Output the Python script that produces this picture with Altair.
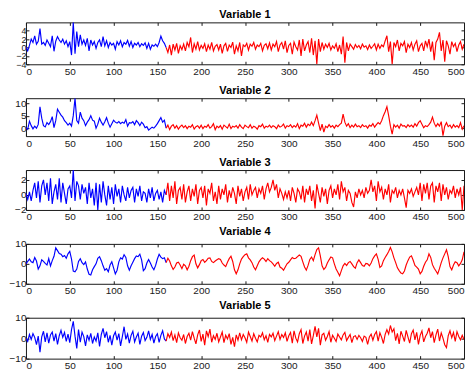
import altair as alt
import numpy as np
import pandas as pd

SPLIT = 160
TITLES = ["Variable 1", "Variable 2", "Variable 3", "Variable 4", "Variable 5"]
X_TICKS = [0, 50, 100, 150, 200, 250, 300, 350, 400, 450, 500]
Y_TICKS = [[-4, -2, 0, 2, 4], [0, 5, 10], [-2, 0, 2], [-10, 0, 10], [-10, 0, 10]]
Y_DOMAINS = [[-4, 6], [-3.2, 12], [-2, 3.3], [-10, 10], [-10, 10]]
Y_LABEL_SIZES = [9, 10, 10, 10, 10]
HEIGHTS = [42, 38, 40, 40, 41]

# values sampled every 2 time steps (x = 0, 2, ..., 500)
var1 = [
    0.2, -0.8, 0.5, 2.0, 1.2, 2.8, 0.8, 1.5, 4.5, 0.8,
    1.2, 0.5, 1.8, 1.0, 0.2, 2.8, -0.9, 1.5, 2.6, 1.8,
    1.2, 2.0, 0.8, 1.6, 0.2, 1.4, -1.8, 6.0, -1.5, 3.8,
    0.2, 3.0, 0.8, 1.8, 0.5, 2.2, -0.8, 1.8, 0.6, 1.4,
    -0.2, 1.2, 1.8, 0.2, 2.6, 0.4, 1.6, 0.0, 1.2, 0.6,
    1.0, -0.4, 1.4, 0.6, 1.6, 0.2, 1.2, 0.8, 1.7, 0.3,
    1.4, 0.0, 1.0, 0.6, 1.2, 0.2, 0.9, 0.5, 1.1, -0.2,
    1.0, -0.4, 0.6, 0.3, 0.8, 0.2, 1.2, 2.7, 1.6, 1.0,
    0.0, -1.2, 0.6, -1.8, 0.8, -0.6, 1.0, -1.4, 0.4, -0.5,
    0.8, -0.8, 1.2, 0.2, 2.4, -1.2, 0.9, -0.4, 1.4, -0.6,
    0.5, -0.2, 0.9, -1.0, 0.6, -0.4, 1.2, -0.8, 0.3, 0.7,
    -0.6, 0.8, -1.4, 0.4, 1.0, -0.9, 0.6, 0.0, 1.3, -1.6,
    0.4, -0.8, 1.2, -2.0, 0.6, 0.2, 1.0, -0.6, 0.8, 0.3,
    1.2, -0.4, 0.6, 0.2, 1.0, -0.8, 0.5, 0.9, -0.3, 1.1,
    -0.6, 0.8, 0.2, 1.4, -1.0, 0.6, 1.2, -0.4, 1.6, -1.2,
    0.5, 1.0, -1.6, 1.3, 0.2, -0.6, 1.8, -2.0, 2.0, -0.8,
    0.6, 1.4, -1.2, 2.2, -1.8, 1.6, -4.0, 2.0, -1.0, 1.2,
    -0.4, 0.8, 0.0, 1.0, -0.6, 0.4, -0.2, 0.9, -1.0, 0.6,
    -1.6, 2.6, -3.6, 1.2, -0.8, 0.8, 0.2, -0.4, 0.7, 0.0,
    0.5, -0.3, 0.8, 0.1, 0.4, -0.5, 0.6, -0.2, 0.3, 0.9,
    -0.6, 0.8, -0.2, 0.6, 0.2, 1.6, 2.8, -1.0, 1.4, -4.0,
    1.2, 0.2, 1.8, -0.8, 1.0, 0.4, 1.4, -1.2, 0.8, 0.0,
    1.2, -0.6, 0.8, 1.6, -1.0, 0.4, 1.0, -0.8, 1.6, 0.2,
    2.0, -1.0, 1.4, -3.0, 1.2, 2.0, 3.6, -0.8, 1.8, -3.4,
    1.6, 0.4, -1.6, 1.4, 0.2, 1.0, -1.0, 0.6, 1.4, -0.4,
    0.8,
]
var2 = [
    0.2, -0.5, 2.8, 1.0, -0.3, 0.8, 0.0, 1.5, 8.5, 4.0,
    1.0, 0.5, 2.2, 1.4, 2.6, 4.6, 0.2, 3.0, 7.6, 6.4,
    5.2, 4.4, 3.0, 2.2, 1.2, 2.0, 0.8, 5.0, 12.0, 3.0,
    2.0, 6.4, 4.0, 3.0, 1.0, 2.4, 3.4, 5.0, 3.2, 2.8,
    0.0, 1.6, 4.0, 2.4, 1.2, 2.6, 4.2, 2.0, 0.4, 1.8,
    3.2, 2.4, 2.0, 2.6, 1.8, 2.4, 2.0, 3.4, 0.8, 2.2,
    2.0, 2.6, 1.4, 3.0, 2.2, 1.0, 2.4, 1.6, 0.2, 0.6,
    -0.8, -0.2, 0.4, 0.0, 0.8, 1.8, 3.0, 4.2, 2.4, 3.2,
    0.0, 1.2, -0.6, 0.8, 1.4, 0.0, 1.0, -0.4, 0.6, 1.2,
    0.2, 1.0, -0.2, 0.8, 0.4, 1.4, -0.4, 0.6, 1.0, 0.0,
    1.2, -0.2, 0.8, 0.4, 1.4, 0.0, 0.6, 1.8, -0.6, 0.8,
    0.2, 1.0, -0.4, 1.2, 0.6, 0.0, 1.6, -0.2, 0.8, 0.4,
    1.0, 0.0, 1.4, 0.4, -0.2, 1.2, 0.6, 0.2, 1.4, 0.0,
    0.8, 0.4, -0.4, 1.0, 0.6, 1.6, 0.0, 0.8, 0.4, 1.2,
    0.2, 1.0, 0.6, -0.2, 1.2, 0.4, 0.8, 1.6, 0.0, 1.0,
    0.6, 1.4, 0.2, 1.0, 0.4, 1.8, -0.2, 1.2, 0.8, 2.0,
    0.4, 1.6, 1.0, 2.4, 1.0, 3.0, 5.2, 2.0, -1.0, 1.6,
    -1.6, 0.8, 0.2, 1.4, 0.4, 1.0, 0.0, 1.2, 0.6, 1.4,
    2.0, 5.6, 2.4, 0.8, 1.8, 0.2, 1.2, 0.4, 1.6, 0.6,
    1.0, 0.2, 1.4, 0.6, 1.0, 0.0, 1.2, 0.8, 1.8, 0.4,
    1.4, 2.2, 1.6, 3.0, 5.0, 6.6, 8.6, 5.0, 0.8, -2.4,
    1.4, 0.4, 1.2, 0.0, 1.6, 0.8, 1.0, 0.2, 1.4, 0.6,
    1.2, 0.4, 1.8, 0.8, 2.2, 3.0, 1.6, 0.2, 1.0, 0.6,
    1.4, 2.4, 4.4, 2.0, 0.6, 1.8, 0.8, 2.6, -3.0, 0.8,
    2.2, 0.6, 1.2, 0.0, 1.4, 0.4, 1.0, 0.2, 2.2, -0.4,
    1.0,
]
var3 = [
    0.2, -0.6, 0.4, -0.8, 0.6, 1.6, -0.4, 1.8, -1.0, 1.2,
    2.0, 0.0, 1.6, -0.8, 2.2, -1.2, 0.4, 1.4, -0.6, 2.2,
    -1.0, 1.6, 0.2, -1.2, 0.8, 1.2, -0.4, 3.3, -0.8, 1.8,
    1.2, -0.6, 1.4, 0.2, 1.0, -1.2, 1.6, -0.4, 0.8, -1.4,
    1.6, -2.0, 1.4, -1.0, 1.8, 0.0, -1.4, 1.2, -0.6, 1.0,
    -1.2, 1.4, -0.2, 0.8, -1.0, 1.2, 0.0, -0.8, 1.0, -0.4,
    0.6, 1.0, -1.0, 0.8, -0.2, 1.2, -0.8, 0.4, 0.2, -1.0,
    0.8, -0.4, 1.0, -0.8, 0.2, 0.6, -0.6, 0.4, -1.0, 0.6,
    0.0, 1.6, -0.8, 1.2, -0.4, 1.8, -1.2, 0.6, 1.0, -0.6,
    1.4, -1.0, 0.4, 1.2, -0.8, 0.8, -0.2, 1.4, -1.2, 0.6,
    1.0, -0.4, 1.2, -1.4, 0.8, 0.2, 1.6, -0.8, 0.4, -1.2,
    1.2, -0.6, 0.8, 0.0, 1.4, -1.0, 0.6, -0.4, 1.0, 0.2,
    -1.2, 1.2, -0.2, 0.8, -0.8, 0.4, 1.0, -0.6, 1.4, 0.0,
    0.6, 1.0, -0.4, 0.8, 0.2, 1.2, -0.6, 0.8, 1.6, 0.4,
    1.0, 2.0, 0.6, 1.4, -0.4, 0.8, 0.2, -0.6, 0.4, -0.4,
    0.6, -0.8, 1.0, 0.2, -1.0, 0.8, 0.4, -0.6, 1.2, -1.0,
    0.8, 0.0, 1.2, -0.8, 0.6, -1.8, 1.4, 0.2, -1.0, 1.0,
    -0.2, 0.8, -1.2, 0.6, 1.2, -0.4, 0.8, 0.0, 1.4, -0.6,
    1.8, 0.4, 1.0, -0.8, 0.6, 0.2, -1.0, -1.6, 0.4, -0.4,
    0.8, 0.0, 0.6, -0.4, 1.0, 0.2, 0.6, 2.0, 0.4, 1.2,
    -0.8, 1.8, 0.4, 1.0, -0.6, 0.8, 0.0, 1.4, -1.0, 0.6,
    0.2, 1.0, -0.4, 0.6, 0.0, 0.8, -0.4, -1.7, 0.6, 0.2,
    0.8, -0.2, 0.4, 1.0, 0.0, 1.6, -0.8, 1.4, 0.2, 1.6,
    -0.6, 1.2, 1.6, -1.0, 1.2, 0.4, 1.6, -0.8, 1.4, 0.0,
    1.0, -0.6, 0.6, 0.2, 1.2, -0.4, 0.8, 0.0, 1.0, -2.0,
    1.2,
]
var4 = [
    0.0, 1.2, 2.4, 1.0, 0.6, 3.2, 1.4, -2.6, -1.0, 2.0,
    1.2, 0.2, -0.6, 2.6, -1.0, 1.6, 3.8, 8.0, 6.6, 5.2,
    4.8, 3.6, 4.2, 2.8, 5.0, 6.2, 2.4, -3.6, -4.0, -2.6,
    1.2, 2.6, 0.6, -0.4, 1.0, -2.6, -5.2, -5.6, -3.0, -1.4,
    0.0, 2.8, 3.6, 1.6, -1.0, -3.2, -2.4, -4.0, -0.6, 1.0,
    -2.0, -5.0, -3.2, 1.0, 3.0, 2.4, 4.6, 3.2, -1.0, -3.2,
    -1.0, 0.8, 2.6, 4.0, 3.6, 4.8, 2.0, -3.4, -2.4, 0.4,
    2.2, 0.4, -1.6, -3.0, -0.8, 2.4, 4.8, 3.4, 2.6, 3.0,
    0.6, 2.8, 1.4, -1.0, -2.8, -1.6, 0.4, 0.8, -0.6, -2.4,
    -0.2, -1.0, -3.0, -1.2, 1.6, 3.6, 4.4, 0.0, -2.0, -0.4,
    1.6, 2.2, 0.8, 1.6, 2.8, 3.0, 1.2, 0.6, 1.4, 2.0,
    2.6, 2.2, 0.4, -0.6, -1.4, 0.8, 2.6, 3.8, 1.2, -3.0,
    -5.0, -3.0, 0.0, 2.4, 3.6, 4.6, 5.0, 3.0, 2.0, 0.6,
    -1.6, -3.0, -1.0, 1.0, 2.2, 3.0, 2.4, 1.2, 2.6, 1.6,
    1.0, 0.0, -1.2, 0.2, 0.8, -1.6, -2.2, -3.2, -1.6, 0.0,
    0.8, 2.0, 3.2, 2.6, 2.8, 3.6, 4.4, 3.8, 1.0, -1.6,
    -3.2, -0.8, 2.2, 3.4, 1.6, 4.6, 7.2, 8.0, 4.0, -1.0,
    -2.8, -1.8, 0.4, 2.0, 3.4, 3.0, 0.0, -2.6, -4.2, -6.0,
    -3.4, -1.0, 0.2, -0.8, 0.6, 1.2, 0.0, -1.4, -2.2, 0.6,
    2.0, 0.6, -0.8, -1.2, 0.2, 0.0, -1.0, 0.4, 2.6, 4.0,
    5.0, 2.2, -1.8, -1.0, 1.6, 3.2, 4.6, 6.2, 8.2, 6.0,
    3.0, 0.6, -2.0, -3.4, -4.6, -5.0, -3.6, -0.6, 1.6, 3.4,
    4.0, 1.8, -0.8, -1.6, -2.6, -5.0, -3.8, -1.2, 0.8, 2.0,
    5.0, 3.2, -0.4, -2.2, -3.6, -5.0, -2.4, 0.6, 3.0, 5.0,
    7.0, 3.6, -1.4, -3.0, -0.6, 1.0, 0.6, -1.0, 0.2, 2.0,
    6.0,
]
var5 = [
    0.0, -1.6, 1.8, -0.6, 2.2, 0.4, -3.2, 1.0, -6.8, 0.6,
    3.4, -1.8, 2.6, -2.4, 1.6, 3.0, -1.4, 2.2, -3.0, 1.2,
    3.8, 0.4, 2.8, -1.6, 2.0, -2.2, 4.2, 8.2, 1.0, -5.0,
    4.2, -2.0, 3.0, 0.8, -3.8, 1.6, -1.0, 2.4, -2.6, 0.6,
    -1.4, 2.6, -4.0, 1.8, 4.8, 0.2, 3.2, -2.0, 1.4, -3.4,
    1.2, 3.0, -1.0, 2.2, -3.8, 0.8, 5.6, -0.6, 2.0, -2.4,
    1.4, 3.4, -1.8, 0.6, 2.4, -3.0, 1.0, 2.8, -1.2, 0.4,
    3.6, -0.6, 1.8, -2.4, 0.8, 2.2, -2.0, 1.4, 3.6, -0.4,
    -1.4, 2.2, 0.4, 3.0, -1.2, 1.6, -2.2, 2.6, 0.2, -1.0,
    1.8, -2.6, 0.8, 2.4, -1.0, 3.2, 0.0, -2.8, 1.6, 4.0,
    -1.6, 2.0, -3.4, 3.6, 0.8, 4.4, -2.0, 1.2, -0.6, 2.4,
    -1.8, 0.6, 3.0, -2.2, 1.4, -0.4, 2.2, -3.0, 0.4, -4.2,
    1.6, -1.0, 2.6, -0.8, 1.8, 0.2, -2.0, 3.0, 0.8, -1.4,
    2.2, 0.0, -1.8, 1.4, 0.6, 2.6, -0.8, 1.2, -2.0, 1.8,
    0.6, 2.4, -1.2, 1.0, 3.2, -0.6, 1.8, 0.4, 2.6, -1.6,
    1.2, 2.8, -2.4, 3.6, 0.0, -1.8, 2.2, 4.2, -2.6, 1.0,
    3.0, -1.4, 4.2, -2.8, 1.2, 5.8, 0.6, 4.8, -3.4, 1.6,
    2.4, -1.0, 0.8, 3.2, -2.0, 1.4, 0.0, -1.6, 2.0, 0.6,
    -0.8, 1.6, 2.8, -1.2, 0.4, 1.8, -2.2, 0.8, 1.2, -0.6,
    1.4, 0.2, -1.6, 1.0, 0.4, -3.0, 0.6, 2.0, -1.0, 1.8,
    3.2, -1.4, 2.6, 0.4, -2.6, 1.8, 4.2, 2.0, 6.2, 3.0,
    4.6, -1.2, 2.4, -2.8, 3.4, 1.0, -1.6, 3.8, 0.6, -2.4,
    2.2, 4.0, -0.8, 2.8, -3.0, 1.4, 3.6, -1.8, 0.8, 2.4,
    5.0, 0.2, 3.2, -2.2, 1.6, 4.4, -1.4, 2.6, 0.0, -3.2,
    -4.6, 1.2, 3.6, 0.2, 2.8, -1.6, 3.2, 0.8, -0.8, 1.4,
    -0.6,
]
SERIES = [var1, var2, var3, var4, var5]

FONT = "Liberation Sans"
INK = "#1a1a1a"


def panel(i):
    vals = SERIES[i]
    xs = np.linspace(0, 500, len(vals))
    rows = []
    for x, v in zip(xs, vals):
        if x <= SPLIT:
            rows.append({"t": float(x), "v": v, "seg": "a"})
        if x >= SPLIT:
            rows.append({"t": float(x), "v": v, "seg": "b"})
    df = pd.DataFrame(rows)
    base = alt.Chart(df)
    xscale = alt.Scale(domain=[0, 500], nice=False, zero=False)
    yscale = alt.Scale(domain=Y_DOMAINS[i], nice=False, zero=False)
    line = base.mark_line(strokeWidth=1.15, clip=True).encode(
        x=alt.X("t:Q", scale=xscale, title=None,
                axis=alt.Axis(values=X_TICKS, orient="bottom", offset=-3, tickSize=3,
                              domain=False, grid=False, labelPadding=2, format="d",
                              labelOverlap=False)),
        y=alt.Y("v:Q", scale=yscale, title=None,
                axis=alt.Axis(values=Y_TICKS[i], orient="left", offset=-3, tickSize=3,
                              domain=False, grid=False, labelPadding=0, format="d",
                              labelOverlap=False, labelFontSize=Y_LABEL_SIZES[i])),
        color=alt.Color("seg:N", scale=alt.Scale(domain=["a", "b"], range=["#0000ff", "#ff0000"]),
                        legend=None),
    )
    mirror = base.mark_line(opacity=0).encode(
        x=alt.X("t:Q", scale=xscale, title=None,
                axis=alt.Axis(values=X_TICKS, orient="top", offset=-3, tickSize=3,
                              domain=False, grid=False, labels=False)),
        y=alt.Y("v:Q", scale=yscale, title=None,
                axis=alt.Axis(values=Y_TICKS[i], orient="right", offset=-3, tickSize=3,
                              domain=False, grid=False, labels=False)),
        detail="seg:N",
    )
    return alt.layer(line, mirror).resolve_axis(x="independent", y="independent").properties(
        width=439, height=HEIGHTS[i], title=TITLES[i]
    )


chart = alt.vconcat(*[panel(i) for i in range(5)], spacing=34, bounds="flush").properties(
    padding={"left": 0, "top": 0, "right": 0, "bottom": 0}
).configure_view(stroke=INK, strokeWidth=1).configure_axis(
    labelFont=FONT, labelFontSize=10, labelColor=INK, tickColor=INK, tickWidth=1,
    minExtent=0
).configure_title(
    font=FONT, fontSize=11, fontWeight="bold", color="#000000", anchor="middle", offset=2
)

chart.save("out.html", embed_options={"renderer": "svg", "actions": False})
